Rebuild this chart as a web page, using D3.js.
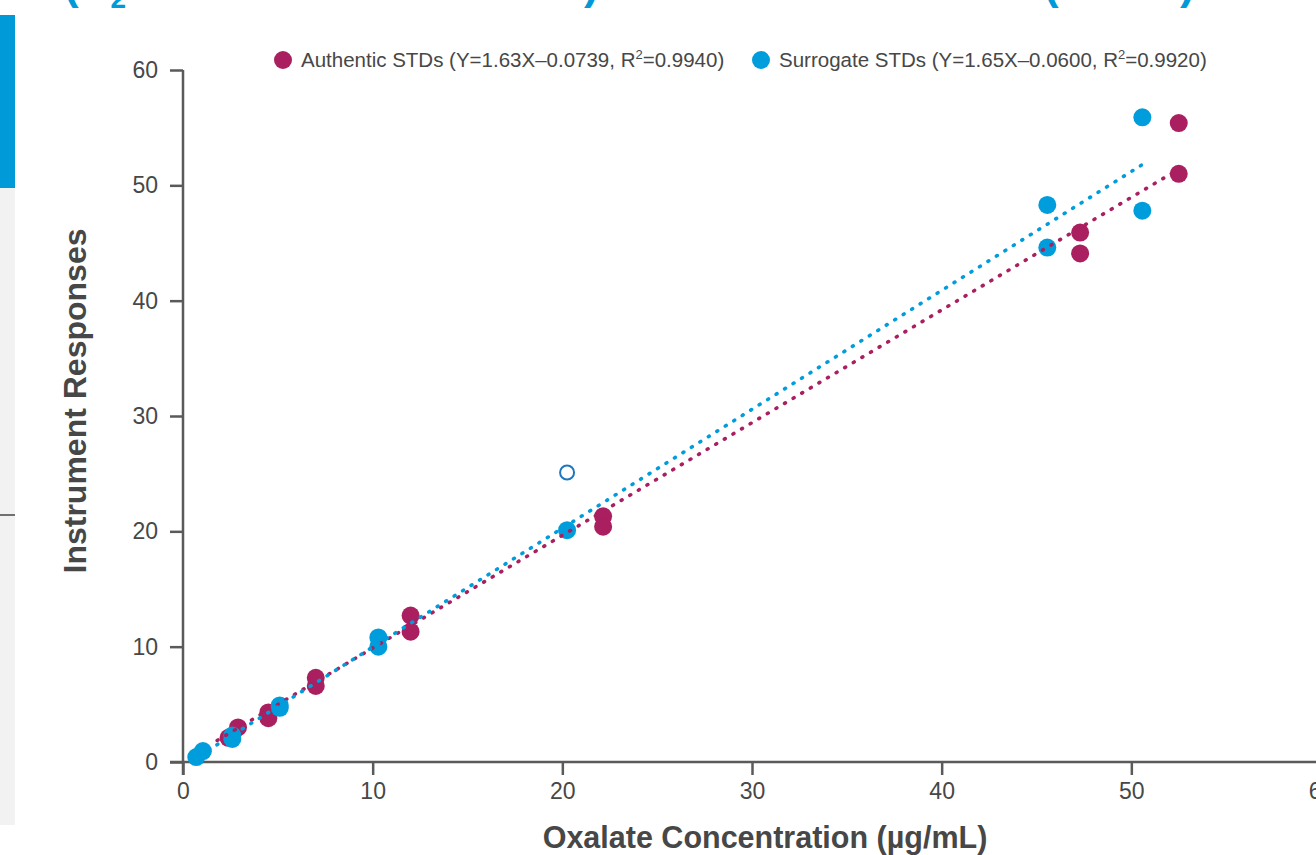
<!DOCTYPE html>
<html>
<head>
<meta charset="utf-8">
<script src="https://cdn.jsdelivr.net/npm/d3@7"></script>
<style>
    html, body { margin: 0; padding: 0; background: #fff; overflow: hidden; }
    svg { display: block; font-family: 'Liberation Sans', Arial, sans-serif; }
</style>
</head>
<body>
<div id="chart"></div>
<script>
// authentic standards (x = concentration, y = response)
const authenticX = [2.4, 2.9, 4.5, 4.5, 7.0, 7.0, 12.0, 12.0, 22.15, 22.15, 47.3, 47.3, 52.5, 52.5];
const authenticY = [2.1, 3.0, 4.3, 3.8, 7.3, 6.6, 12.7, 11.3, 21.3, 20.4, 45.9, 44.1, 55.4, 51.0];

// surrogate standards
const surrogateX = [0.7, 1.05, 2.6, 2.6, 5.1, 5.1, 10.3, 10.3, 20.25, 45.57, 45.57, 50.58, 50.58];
const surrogateY = [0.43, 0.95, 2.3, 2.0, 4.9, 4.7, 10.8, 10.0, 20.1, 48.3, 44.6, 55.9, 47.8];

// excluded surrogate point (open circle)
const outlierX = [20.25];
const outlierY = [25.1];

// fitted lines: [slope, intercept, xStart, xEnd]
const authenticFit = [0.977, 0.11, 1.8, 52.3];
const surrogateFit = [1.031, -0.35, 0.45, 50.58];

const xTicks = [0, 10, 20, 30, 40, 50, 60];
const yTicks = [0, 10, 20, 30, 40, 50, 60];

const legendLabels = [
    ['Authentic STDs (Y=1.63X\u20130.0739, R', '=0.9940)'],
    ['Surrogate STDs (Y=1.65X\u20130.0600, R', '=0.9920)']
];

const MAGENTA = '#aa1f60';
const BLUE = '#009ddc';

class CalibrationChart {
    constructor(target, width, height) {
        this._width = width;
        this._height = height;
        this._svg = d3.select(target).append('svg')
            .attr('width', width)
            .attr('height', height);

        this._x = d3.scaleLinear().domain([0, 60]).range([183, 1321]);
        this._y = d3.scaleLinear().domain([0, 60]).range([762, 70]);
    }

    drawFrame() {
        // slide remnants: side panel and cut-off heading
        const side = this._svg.append('g');
        side.append('rect').attr('x', 0).attr('y', 188).attr('width', 15).attr('height', 637).attr('fill', '#f2f2f2');
        side.append('rect').attr('x', 0).attr('y', 15).attr('width', 15).attr('height', 173).attr('fill', '#009ad9');
        side.append('line').attr('x1', 0).attr('x2', 15).attr('y1', 515).attr('y2', 515)
            .attr('stroke', '#444').attr('stroke-width', 1.5);

        const head = this._svg.append('g')
            .attr('fill', '#009ad9')
            .attr('font-weight', 'bold')
            .attr('font-size', 44);
        const first = head.append('text').attr('x', 64).attr('y', -1);
        first.append('tspan').text('(C');
        first.append('tspan').attr('dy', 9).attr('font-size', 28).text('2');
        first.append('tspan').attr('dy', -9).text(' Anion Standards');
        head.append('text').attr('x', 584).attr('y', -1).text(')');
        head.append('text').attr('x', 1044).attr('y', -1).text('(MS');
        head.append('text').attr('x', 1180).attr('y', -1).text(')');
    }

    drawAxes() {
        const yAxis = d3.axisLeft(this._y).tickValues(yTicks).tickSize(13).tickPadding(12);
        const xAxis = d3.axisBottom(this._x).tickValues(xTicks).tickSize(13).tickPadding(8);

        const gy = this._svg.append('g')
            .attr('transform', `translate(${this._x(0)},0)`)
            .call(yAxis);
        gy.select('.domain').attr('d', `M0,${this._y(60)}V${this._y(0) + 13}`);

        const gx = this._svg.append('g')
            .attr('transform', `translate(0,${this._y(0)})`)
            .call(xAxis);
        gx.select('.domain').attr('d', `M${this._x(0) - 13},0H${this._width + 10}`);

        [gx, gy].forEach(g => {
            g.selectAll('.domain, .tick line').attr('stroke', '#5a5a5a').attr('stroke-width', 2.5);
            g.selectAll('.tick text')
                .attr('fill', '#474747')
                .attr('font-size', 23)
                .attr('font-family', "'Liberation Sans', Arial, sans-serif");
        });

        this._svg.append('text')
            .attr('transform', `translate(86,401) rotate(-90)`)
            .attr('text-anchor', 'middle')
            .attr('font-weight', 'bold')
            .attr('font-size', 32)
            .attr('fill', '#474747')
            .text('Instrument Responses');

        this._svg.append('text')
            .attr('x', 765)
            .attr('y', 848)
            .attr('text-anchor', 'middle')
            .attr('font-weight', 'bold')
            .attr('font-size', 30.5)
            .attr('fill', '#474747')
            .text('Oxalate Concentration (\u00b5g/mL)');
    }

    drawPoints(xs, ys, color) {
        this._svg.append('g')
            .selectAll('circle')
            .data(d3.zip(xs, ys))
            .join('circle')
            .attr('cx', d => this._x(d[0]))
            .attr('cy', d => this._y(d[1]))
            .attr('r', 9)
            .attr('fill', color);
    }

    drawOpen(xs, ys, color) {
        this._svg.append('g')
            .selectAll('circle')
            .data(d3.zip(xs, ys))
            .join('circle')
            .attr('cx', d => this._x(d[0]))
            .attr('cy', d => this._y(d[1]))
            .attr('r', 7)
            .attr('fill', 'none')
            .attr('stroke', color)
            .attr('stroke-width', 2);
    }

    drawFit(fit, color) {
        const [m, b, x0, x1] = fit;
        const line = d3.line().x(d => this._x(d)).y(d => this._y(m * d + b));
        this._svg.append('path')
            .attr('d', line([x0, x1]))
            .attr('fill', 'none')
            .attr('stroke', color)
            .attr('stroke-width', 3.6)
            .attr('stroke-linecap', 'round')
            .attr('stroke-dasharray', '1 9');
    }

    drawLegend() {
        const items = [
            { label: legendLabels[0], color: MAGENTA, cx: 283 },
            { label: legendLabels[1], color: BLUE, cx: 761 }
        ];
        const g = this._svg.append('g');
        items.forEach(it => {
            g.append('circle').attr('cx', it.cx).attr('cy', 60).attr('r', 9).attr('fill', it.color);
            const t = g.append('text')
                .attr('x', it.cx + 18)
                .attr('y', 67)
                .attr('font-size', 20.5)
                .attr('fill', '#474747');
            t.append('tspan').text(it.label[0]);
            t.append('tspan').attr('dy', -8).attr('font-size', 13).text('2');
            t.append('tspan').attr('dy', 8).text(it.label[1]);
        });
    }

    render() {
        this.drawFrame();
        this.drawAxes();
        this.drawPoints(authenticX, authenticY, MAGENTA);
        this.drawPoints(surrogateX, surrogateY, BLUE);
        this.drawOpen(outlierX, outlierY, '#1d78c1');
        this.drawFit(authenticFit, MAGENTA);
        this.drawFit(surrogateFit, BLUE);
        this.drawLegend();
    }
}

new CalibrationChart('#chart', 1316, 855).render();
</script>
</body>
</html>
